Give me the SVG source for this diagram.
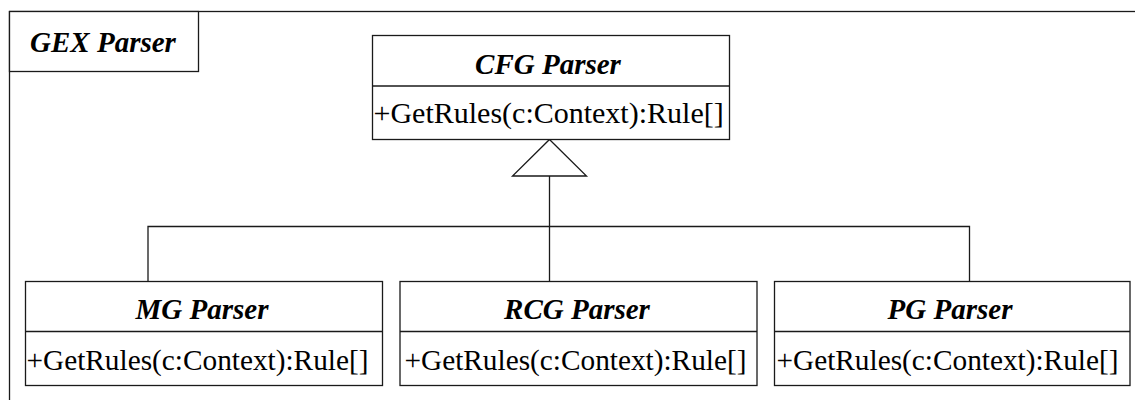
<svg xmlns="http://www.w3.org/2000/svg" width="1135" height="400" viewBox="0 0 1135 400">
  <style>
    .box { fill: #fff; stroke: #1a1a1a; stroke-width: 1.3; }
    .line { fill: none; stroke: #1a1a1a; stroke-width: 1.3; }
    .title { font-family: "Liberation Serif", "Times New Roman", serif; font-size: 29px; font-weight: bold; font-style: italic; fill: #000; text-anchor: middle; }
    .op { font-family: "Liberation Serif", "Times New Roman", serif; font-size: 29.3px; fill: #000; }
    .op-main { font-size: 30px; }
  </style>
  <rect width="1135" height="400" fill="#fff"/>

  <!-- package frame -->
  <g id="package">
    <rect class="box" x="9.5" y="11.5" width="1200" height="500"/>
    <rect class="box" x="9.5" y="11.5" width="189" height="60"/>
    <text class="title" x="103" y="52">GEX Parser</text>
  </g>

  <!-- generalization connectors -->
  <g id="connectors">
    <polygon class="line" points="549.5,139.5 586.5,176 512.5,176"/>
    <line class="line" x1="549.5" y1="176" x2="549.5" y2="282"/>
    <polyline class="line" points="148,282 148,226.5 969.5,226.5 969.5,282"/>
  </g>

  <g id="cfg-parser">
    <rect class="box" x="372.5" y="35.5" width="357" height="104"/>
    <line class="line" x1="372.5" y1="86" x2="729.5" y2="86"/>
    <text class="title" x="548" y="73.5">CFG Parser</text>
    <text class="op op-main" x="373.5" y="123">+GetRules(c:Context):Rule[]</text>
  </g>

  <g id="mg-parser">
    <rect class="box" x="25.5" y="281.5" width="357" height="104"/>
    <line class="line" x1="25.5" y1="331.5" x2="382.5" y2="331.5"/>
    <text class="title" x="202" y="318.5">MG Parser</text>
    <text class="op" x="26.5" y="370">+GetRules(c:Context):Rule[]</text>
  </g>

  <g id="rcg-parser">
    <rect class="box" x="400" y="281.5" width="357" height="104"/>
    <line class="line" x1="400" y1="331.5" x2="757" y2="331.5"/>
    <text class="title" x="577" y="318.5">RCG Parser</text>
    <text class="op" x="404.5" y="370">+GetRules(c:Context):Rule[]</text>
  </g>

  <g id="pg-parser">
    <rect class="box" x="774.5" y="281.5" width="355.5" height="104"/>
    <line class="line" x1="774.5" y1="331.5" x2="1130" y2="331.5"/>
    <text class="title" x="950" y="318.5">PG Parser</text>
    <text class="op" x="776.5" y="370">+GetRules(c:Context):Rule[]</text>
  </g>
</svg>
